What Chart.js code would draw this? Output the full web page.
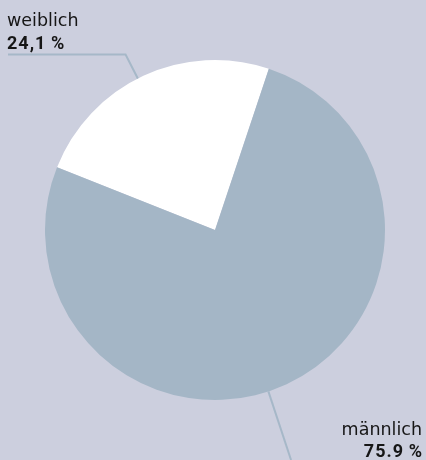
<!DOCTYPE html>
<html>
<head>
<meta charset="utf-8">
<script src="https://cdn.jsdelivr.net/npm/chart.js@4.4.1/dist/chart.umd.min.js"></script>
<style>
  html,body{margin:0;padding:0;background:#cccfde;}
  #wrap{position:relative;width:426px;height:460px;}
</style>
</head>
<body>
<div id="wrap"><canvas id="pie"></canvas></div>
<script>
// data
const categories = ["weiblich", "männlich"];
const shares = [24.1, 75.9];
const shareLabels = ["24,1\u2009%", "75.9\u2009%"];

const sliceColors = ["#ffffff", "#a4b6c6"];
const lineColor = "#a6b8c8";

// leader lines + labels
const leaderPlugin = {
  id: "leaders",
  afterDraw(chart){
    const ctx = chart.ctx;
    const arcs = chart.getDatasetMeta(0).data;
    const W = chart.width, H = chart.height;
    const regular = "17.5px 'DejaVu Sans'";
    const bold = "bold 18px Roboto";
    ctx.save();
    ctx.strokeStyle = lineColor;
    ctx.lineWidth = 2;
    ctx.fillStyle = "#161616";

    // weiblich: radial stub, then horizontal to the left under the label
    let a = arcs[0];
    let ang = (333 - 90) * Math.PI / 180;
    let r0 = a.outerRadius, r1 = a.outerRadius + 27;
    let x1 = a.x + Math.cos(ang) * r1, y1 = a.y + Math.sin(ang) * r1;
    ctx.beginPath();
    ctx.moveTo(a.x + Math.cos(ang) * r0, a.y + Math.sin(ang) * r0);
    ctx.lineTo(x1, y1);
    ctx.lineTo(8, y1);
    ctx.stroke();
    ctx.textAlign = "left";
    ctx.textBaseline = "alphabetic";
    ctx.font = regular;
    ctx.letterSpacing = "0px";
    ctx.fillText(categories[0], 7, y1 - 28);
    ctx.font = bold;
    ctx.letterSpacing = "1px";
    ctx.fillText(shareLabels[0], 7, y1 - 5);

    // männlich: radial line down to the bottom edge
    a = arcs[1];
    ang = (161.7 - 90) * Math.PI / 180;
    r0 = a.outerRadius;
    ctx.beginPath();
    ctx.moveTo(a.x + Math.cos(ang) * r0, a.y + Math.sin(ang) * r0);
    const r2 = (H - a.y) / Math.sin(ang);
    ctx.lineTo(a.x + Math.cos(ang) * r2, H);
    ctx.stroke();
    ctx.textAlign = "right";
    ctx.font = regular;
    ctx.letterSpacing = "0px";
    ctx.fillText(categories[1], W - 4, H - 25);
    ctx.font = bold;
    ctx.letterSpacing = "1px";
    ctx.fillText(shareLabels[1], W - 3, H - 3);
    ctx.restore();
  }
};

new Chart(document.getElementById("pie"), {
  type: "pie",
  data: {
    labels: categories,
    datasets: [{
      data: shares,
      backgroundColor: sliceColors,
      borderWidth: 0
    }]
  },
  options: {
    responsive: true,
    maintainAspectRatio: false,
    animation: false,
    rotation: -68.3,
    layout: {padding: {left: 45, right: 41, top: 60, bottom: 60}},
    plugins: {legend: {display: false}, tooltip: {enabled: false}}
  },
  plugins: [leaderPlugin]
});
</script>
</body>
</html>
